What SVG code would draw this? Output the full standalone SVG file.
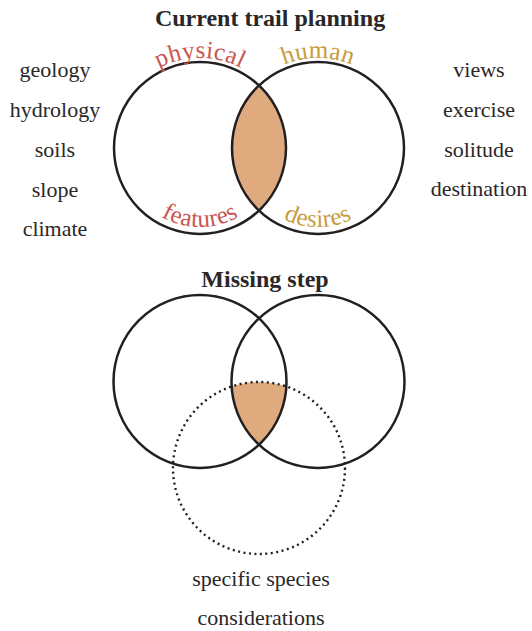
<svg xmlns="http://www.w3.org/2000/svg" xmlns:xlink="http://www.w3.org/1999/xlink" width="532" height="631" viewBox="0 0 532 631">
  <style>
    .txt { font-family: "Liberation Serif", "Times New Roman", serif; font-size: 22px; fill: #2b2728; text-anchor: middle; }
    .title { font-family: "Liberation Serif", "Times New Roman", serif; font-size: 24px; font-weight: bold; fill: #2b2728; text-anchor: middle; }
    .ring { fill: none; stroke: #231f20; stroke-width: 2.5; }
    .dotted { fill: none; stroke: #231f20; stroke-width: 2.4; stroke-dasharray: 2 3.5; }
    .shade { fill: #dfab7e; stroke: none; }
    .phys { font-family: "Liberation Serif", "Times New Roman", serif; font-size: 25px; fill: #c9554f; letter-spacing: 0.3px; }
    .hum { font-family: "Liberation Serif", "Times New Roman", serif; font-size: 25px; fill: #c89b3c; letter-spacing: 0.3px; }
  </style>
  <defs>
    <clipPath id="clipTL"><circle cx="200" cy="148" r="86"/></clipPath>
    <clipPath id="clipBL"><circle cx="200" cy="381.5" r="86.5"/></clipPath>
    <clipPath id="clipBR"><circle cx="318" cy="381.5" r="86.5"/></clipPath>
    <path id="arcPhys" d="M 110,148 A 90 90 0 0 1 290,148"/>
    <path id="arcHum" d="M 228,148 A 90 90 0 0 1 408,148"/>
    <path id="arcFeat" d="M 121,148 A 79 79 0 0 0 279,148"/>
    <path id="arcDes" d="M 239,148 A 79 79 0 0 0 397,148"/>
  </defs>

  <!-- Top diagram -->
  <text class="title" x="270" y="26">Current trail planning</text>

  <g id="lens-top">
    <g clip-path="url(#clipTL)">
      <circle class="shade" cx="318" cy="148" r="86"/>
    </g>
  </g>
  <g id="physical">
    <circle class="ring" cx="200" cy="148" r="86"/>
    <text class="phys" text-anchor="middle"><textPath xlink:href="#arcPhys" href="#arcPhys" startOffset="50%">physical</textPath></text>
    <text class="phys" text-anchor="middle"><textPath xlink:href="#arcFeat" href="#arcFeat" startOffset="50%">features</textPath></text>
  </g>
  <g id="human">
    <circle class="ring" cx="318" cy="148" r="86"/>
    <text class="hum" text-anchor="middle"><textPath xlink:href="#arcHum" href="#arcHum" startOffset="50%">human</textPath></text>
    <text class="hum" text-anchor="middle"><textPath xlink:href="#arcDes" href="#arcDes" startOffset="50%">desires</textPath></text>
  </g>

  <g id="physical-list">
    <text class="txt" x="55" y="77">geology</text>
    <text class="txt" x="55" y="117">hydrology</text>
    <text class="txt" x="55" y="157">soils</text>
    <text class="txt" x="55" y="197">slope</text>
    <text class="txt" x="55" y="236">climate</text>
  </g>
  <g id="human-list">
    <text class="txt" x="479" y="77">views</text>
    <text class="txt" x="479" y="117">exercise</text>
    <text class="txt" x="479" y="157">solitude</text>
    <text class="txt" x="479" y="196">destination</text>
  </g>

  <!-- Bottom diagram -->
  <text class="title" x="265" y="287">Missing step</text>

  <g id="lens-bottom">
    <g clip-path="url(#clipBL)">
      <g clip-path="url(#clipBR)">
        <circle class="shade" cx="259" cy="468" r="86"/>
      </g>
    </g>
  </g>
  <g id="left-bottom">
    <circle class="ring" cx="200" cy="381.5" r="86.5"/>
  </g>
  <g id="right-bottom">
    <circle class="ring" cx="318" cy="381.5" r="86.5"/>
  </g>
  <g id="species">
    <circle class="dotted" cx="259" cy="468" r="86"/>
    <text class="txt" x="261" y="586">specific species</text>
    <text class="txt" x="261" y="625">considerations</text>
  </g>
</svg>
